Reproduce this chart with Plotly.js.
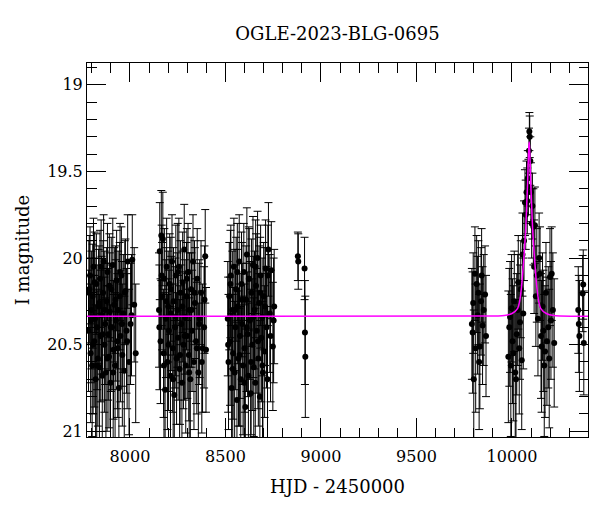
<!DOCTYPE html>
<html>
<head>
<meta charset="utf-8">
<script src="https://cdn.plot.ly/plotly-3.0.1.min.js"></script>
<style>html,body{margin:0;padding:0;background:#fff}#chart{width:600px;height:512px}</style>
</head>
<body>
<div id="chart"></div>
<script>
// Season 1
const s1Hjd = [7783,7787,7791,7794,7798,7802,7805,7809,7813,7817,7820,7824,7828,7832,7836,7840,7843,7847,7851,7855,7859,7862,7866,7870,7874,7878,7882,7886,7890,7894,7898,7902,7906,7910,7914,7918,7922,7926,7930,7934,7938,7942,7946,7950,7955,7960,7965,7970,7976,7982,7988,7995,8003,8012,8022,8030,
               7785,7796,7807,7815,7826,7838,7849,7857,7868,7880,7892,7900,7912,7924,7936,7948,7958,7973,7985,8008];
const s1Mag = [20.42,20.18,20.10,20.55,20.30,20.62,20.22,20.05,20.48,20.35,20.70,20.15,20.40,20.58,20.28,20.63,20.12,20.45,20.33,20.68,20.20,20.02,20.50,20.38,20.66,20.25,20.08,20.44,20.57,20.31,20.72,20.18,20.40,20.04,20.53,20.27,20.62,20.36,20.13,20.48,20.30,20.75,20.22,20.45,20.10,20.56,20.32,20.65,20.19,20.42,20.02,20.60,20.38,20.01,20.27,20.55,
               20.20,20.36,20.50,20.14,20.62,20.26,20.05,20.44,20.30,20.58,20.16,20.40,20.66,20.24,20.52,20.08,20.38,20.20,20.48,20.33];
const s1Err = [0.35,0.31,0.28,0.40,0.34,0.41,0.30,0.28,0.38,0.35,0.43,0.29,0.36,0.39,0.33,0.42,0.28,0.38,0.34,0.44,0.30,0.27,0.39,0.35,0.43,0.31,0.28,0.38,0.41,0.34,0.45,0.30,0.36,0.27,0.40,0.33,0.42,0.35,0.29,0.39,0.34,0.46,0.31,0.38,0.28,0.41,0.34,0.43,0.30,0.36,0.27,0.42,0.35,0.26,0.33,0.40,
               0.30,0.36,0.40,0.29,0.44,0.33,0.27,0.38,0.34,0.42,0.30,0.37,0.45,0.31,0.40,0.28,0.36,0.30,0.39,0.35];
// Season 2
const s2Hjd = [8152,8156,8160,8164,8168,8172,8176,8180,8184,8188,8192,8196,8200,8204,8208,8212,8216,8220,8224,8228,8232,8236,8240,8244,8248,8252,8256,8260,8264,8268,8272,8276,8280,8284,8288,8292,8296,8300,8304,8308,8312,8316,8320,8325,8330,8335,8340,8346,8352,8358,8365,8372,8380,8388,8394,8398,
               8154,8166,8178,8190,8202,8214,8226,8238,8250,8262,8274,8286,8298,8310,8322,8338,8350,8362,8376,8390];
const s2Mag = [20.30,19.96,20.48,19.87,20.22,19.89,20.55,20.12,20.76,20.35,20.05,20.60,20.28,20.42,20.15,20.68,20.32,20.02,20.52,20.25,20.79,20.40,20.10,20.58,20.30,20.46,20.05,20.64,20.20,20.38,20.72,20.14,20.50,19.95,20.34,20.62,20.22,20.45,20.08,20.56,20.30,20.70,20.18,20.42,20.02,20.60,20.26,20.48,20.12,20.66,20.35,20.20,20.52,20.40,19.99,20.53,
               20.40,20.10,20.62,20.25,20.50,20.18,20.70,20.34,20.08,20.56,20.28,20.45,20.12,20.66,20.30,20.20,20.52,20.38,20.60,20.24];
const s2Err = [0.33,0.28,0.36,0.26,0.31,0.27,0.37,0.29,0.42,0.34,0.28,0.39,0.32,0.35,0.29,0.40,0.33,0.27,0.37,0.31,0.43,0.35,0.29,0.38,0.33,0.36,0.28,0.40,0.30,0.34,0.42,0.29,0.37,0.26,0.33,0.39,0.31,0.36,0.28,0.38,0.33,0.41,0.30,0.35,0.27,0.39,0.32,0.36,0.29,0.40,0.34,0.30,0.37,0.35,0.27,0.36,
               0.36,0.29,0.42,0.31,0.38,0.30,0.44,0.34,0.28,0.40,0.32,0.37,0.29,0.43,0.33,0.30,0.38,0.35,0.41,0.31];
// Season 3
const s3Hjd = [8512,8516,8520,8524,8528,8532,8536,8540,8544,8548,8552,8556,8560,8564,8568,8572,8576,8580,8584,8588,8592,8596,8600,8604,8608,8612,8616,8620,8624,8628,8632,8636,8640,8644,8648,8652,8656,8660,8664,8668,8672,8676,8680,8684,8688,8692,8696,8700,8705,8710,8715,8720,8725,8732,8740,8748,8755,
               8514,8526,8538,8550,8562,8574,8586,8598,8610,8622,8634,8646,8658,8670,8682,8694,8707,8722,8736,8752];
const s3Mag = [20.35,20.60,20.22,20.48,20.10,20.75,20.30,20.55,20.05,20.66,20.40,20.18,20.82,20.28,20.58,20.02,20.45,20.70,20.15,20.38,20.62,20.08,20.52,20.86,20.24,19.98,20.44,20.68,20.12,20.36,20.78,20.20,20.50,20.04,20.63,20.30,20.72,20.16,20.42,20.00,20.58,20.26,20.80,20.10,20.46,20.34,20.66,20.22,20.54,20.06,20.40,20.70,19.95,20.32,20.07,20.51,20.28,
               20.50,20.15,20.64,20.30,20.08,20.56,20.24,20.72,20.40,20.12,20.60,20.34,20.05,20.48,20.20,20.62,20.28,20.10,20.45,20.36];
const s3Err = [0.33,0.39,0.31,0.37,0.29,0.43,0.34,0.38,0.28,0.41,0.36,0.30,0.45,0.33,0.39,0.27,0.36,0.42,0.30,0.35,0.40,0.28,0.37,0.45,0.31,0.27,0.36,0.42,0.29,0.34,0.44,0.31,0.38,0.28,0.40,0.34,0.43,0.30,0.36,0.27,0.39,0.33,0.44,0.29,0.37,0.34,0.41,0.31,0.38,0.28,0.35,0.42,0.27,0.34,0.28,0.37,0.33,
               0.39,0.31,0.43,0.35,0.28,0.41,0.33,0.45,0.37,0.30,0.42,0.35,0.27,0.39,0.32,0.43,0.34,0.29,0.38,0.36];
// Season 4 (few points)
const s4Hjd = [8879,8881,8914,8916,8918];
const s4Mag = [19.99,20.02,20.06,20.43,20.57];
const s4Err = [0.14,0.16,0.18,0.30,0.35];
// Season 5
const s5Hjd = [9790,9794,9797,9800,9806,9810,9815,9820,9824,9828,9832,9838,9841,9846,9852,9859,9864];
const s5Mag = [20.38,20.43,20.26,20.70,20.09,20.52,20.15,20.33,20.20,20.60,20.51,20.25,20.10,20.39,20.30,20.21,20.45];
const s5Err = [0.32,0.35,0.29,0.40,0.27,0.37,0.28,0.34,0.30,0.39,0.36,0.31,0.27,0.34,0.32,0.28,0.35];
// Event season
const s6Hjd = [9981,9986,9990,9994,9998,10003,10007,10012,10017,10021,10025,10030,10033,10038,10042,10046,10051,10055,10059,10063,10068,10072,10076,10080,10083,10086,10089,10091,10093,10096,10099,10103,10107,10112,10116,10120,10125,10130,10136,10142,10147,10152,10155,10160,10164,10169,10173,10178,10183,10190,10195,10199,10204,10208,10214,10221];
const s6Mag = [20.57,20.40,20.34,20.62,20.29,20.48,20.55,20.25,20.66,20.70,20.44,20.30,20.14,20.52,20.37,20.18,20.59,19.98,20.32,19.90,19.68,19.75,19.62,19.67,19.54,19.59,19.38,19.27,19.30,19.44,19.62,19.80,19.70,19.82,20.05,19.81,20.22,20.10,20.35,20.00,20.09,20.45,20.51,20.28,20.42,20.62,20.54,20.20,20.48,20.40,20.58,20.11,20.36,20.09,20.30,20.49];
const s6Err = [0.38,0.34,0.32,0.41,0.31,0.36,0.39,0.29,0.42,0.44,0.35,0.32,0.27,0.38,0.33,0.28,0.40,0.24,0.32,0.23,0.19,0.20,0.18,0.19,0.16,0.16,0.13,0.11,0.12,0.14,0.17,0.20,0.19,0.22,0.27,0.22,0.29,0.27,0.33,0.26,0.27,0.36,0.38,0.31,0.35,0.41,0.38,0.29,0.37,0.35,0.40,0.28,0.34,0.27,0.33,0.37];
// Last season
const s7Hjd = [10347,10350,10353,10370,10373,10376];
const s7Mag = [20.30,20.38,20.45,20.205,20.153,20.49];
const s7Err = [0.25,0.28,0.32,0.22,0.20,0.30];
// Model curve
const modelHjd = [7775,9800,9960,10000,10030,10040,10050,10058,10065,10072,10078,10082,10085,10088,10090,10092,10095,10098,10102,10108,10115,10122,10130,10140,10150,10180,10220,10398];
const modelMag = [20.336,20.335,20.332,20.32,20.29,20.25,20.167,20.06,19.955,19.83,19.67,19.56,19.45,19.36,19.33,19.36,19.45,19.56,19.67,19.83,19.955,20.06,20.167,20.25,20.29,20.32,20.332,20.336];

const xTickVals = [8000,8500,9000,9500,10000];
const yTickVals = [19,19.5,20,20.5,21];

const hjd = [].concat(s1Hjd,s2Hjd,s3Hjd,s4Hjd,s5Hjd,s6Hjd,s7Hjd);
const mag = [].concat(s1Mag,s2Mag,s3Mag,s4Mag,s5Mag,s6Mag,s7Mag);
const err = [].concat(s1Err,s2Err,s3Err,s4Err,s5Err,s6Err,s7Err);

const font = 'DejaVu Serif';
const data = [
  {x: hjd, y: mag, type: 'scatter', mode: 'markers',
   marker: {color: '#000', size: 6},
   error_y: {type: 'data', array: err, visible: true, color: '#000', thickness: 1, width: 4},
   showlegend: false, hoverinfo: 'skip'},
  {x: modelHjd, y: modelMag, type: 'scatter', mode: 'lines',
   line: {color: '#ff00ff', width: 1.5, shape: 'spline', smoothing: 0.8},
   showlegend: false, hoverinfo: 'skip'}
];
const axisCommon = {
  showline: true, linecolor: '#000', linewidth: 1, mirror: 'allticks',
  ticks: 'inside', ticklen: 19, tickwidth: 1, tickcolor: '#000',
  showgrid: false, zeroline: false,
  tickfont: {family: font, size: 16, color: '#000'}
};
const layout = {
  width: 600, height: 512,
  margin: {l: 87, r: 12, t: 63, b: 75},
  paper_bgcolor: '#fff', plot_bgcolor: '#fff',
  font: {family: font, color: '#000'},
  title: {text: 'OGLE-2023-BLG-0695', font: {family: font, size: 18, color: '#000'},
          x: 0.5625, xanchor: 'center', y: 1 - 34/512, yanchor: 'middle', yref: 'container'},
  xaxis: Object.assign({}, axisCommon, {
    range: [7775, 10398], tickvals: xTickVals, ticktext: xTickVals.map(String),
    ticklabelstandoff: 5,
    minor: {ticks: 'inside', ticklen: 9.5, dtick: 100, tick0: 8000, tickcolor: '#000', tickwidth: 1, showgrid: false},
    title: {text: 'HJD - 2450000', font: {family: font, size: 18, color: '#000'}, standoff: 15}
  }),
  yaxis: Object.assign({}, axisCommon, {
    range: [21.033, 18.874], tickvals: yTickVals, ticktext: yTickVals.map(String),
    minor: {ticks: 'inside', ticklen: 9.5, dtick: 0.1, tick0: 19, tickcolor: '#000', tickwidth: 1, showgrid: false},
    title: {text: 'I magnitude', font: {family: font, size: 18, color: '#000'}, standoff: 12}
  })
};
Plotly.newPlot('chart', data, layout, {staticPlot: true, displayModeBar: false});
</script>
</body>
</html>
